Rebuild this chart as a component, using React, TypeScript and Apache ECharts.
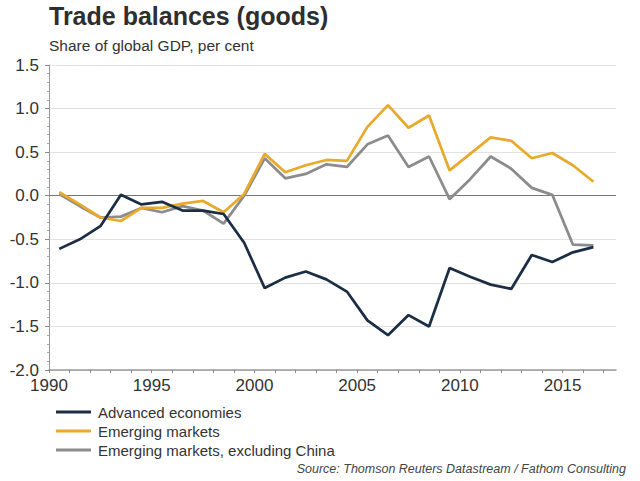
import React, { useEffect, useRef } from "react";
import * as echarts from "echarts";

const years = [
  1990, 1991, 1992, 1993, 1994, 1995, 1996, 1997, 1998, 1999, 2000, 2001, 2002,
  2003, 2004, 2005, 2006, 2007, 2008, 2009, 2010, 2011, 2012, 2013, 2014, 2015, 2016,
];

const advancedEconomies = [
  -0.61, -0.5, -0.35, 0.01, -0.1, -0.07, -0.17, -0.17, -0.21, -0.54, -1.06, -0.94, -0.87,
  -0.96, -1.1, -1.43, -1.6, -1.37, -1.5, -0.83, -0.93, -1.02, -1.07, -0.68, -0.76, -0.65, -0.59,
];

const emergingMarkets = [
  0.04, -0.1, -0.25, -0.29, -0.14, -0.14, -0.09, -0.06, -0.19, 0.02, 0.48, 0.27, 0.35,
  0.41, 0.4, 0.79, 1.04, 0.78, 0.92, 0.29, 0.48, 0.67, 0.63, 0.43, 0.49, 0.35, 0.16,
];

const emergingExChina = [
  0.02, -0.12, -0.25, -0.24, -0.14, -0.19, -0.12, -0.17, -0.32, 0.0, 0.43, 0.2, 0.25,
  0.36, 0.33, 0.59, 0.69, 0.33, 0.45, -0.04, 0.19, 0.45, 0.31, 0.09, 0.01, -0.56, -0.57,
];

const seriesNames = [
  "Advanced economies",
  "Emerging markets",
  "Emerging markets, excluding China",
];
const seriesColors = ["#1c2e44", "#e8aa2c", "#8c8c8c"];

const FONT = "'Liberation Sans', Arial, Helvetica, sans-serif";

// Annual observations plotted at mid-year
const toPoints = (vals: number[]) => years.map((y, i) => [y + 0.5, vals[i]]);

export default function App() {
  const ref = useRef<HTMLDivElement>(null);

  useEffect(() => {
    if (!ref.current) return;
    const chart = echarts.init(ref.current, null, { renderer: "svg" });
    const allData = [advancedEconomies, emergingMarkets, emergingExChina];

    chart.setOption({
      animation: false,
      backgroundColor: "#ffffff",
      textStyle: { fontFamily: FONT },
      title: [
        {
          text: "Trade balances (goods)",
          left: 49,
          top: 3,
          padding: 0,
          textStyle: {
            fontFamily: FONT,
            fontSize: 25,
            fontWeight: "bold",
            color: "#2e2e2e",
          },
        },
        {
          text: "Share of global GDP, per cent",
          left: 49,
          top: 37,
          padding: 0,
          textStyle: {
            fontFamily: FONT,
            fontSize: 15.5,
            fontWeight: "normal",
            color: "#333333",
          },
        },
        {
          text: "Source: Thomson Reuters Datastream / Fathom Consulting",
          right: 14,
          top: 462,
          padding: 0,
          textStyle: {
            fontFamily: FONT,
            fontSize: 12.5,
            fontStyle: "italic",
            fontWeight: "normal",
            color: "#444444",
          },
        },
      ],
      legend: {
        orient: "vertical",
        left: 56,
        top: 404,
        padding: 0,
        itemGap: 3,
        itemWidth: 35,
        itemHeight: 3,
        icon: "rect",
        textStyle: {
          fontFamily: FONT,
          fontSize: 15,
          lineHeight: 16,
          color: "#333333",
          padding: [0, 0, 0, 2],
        },
        data: seriesNames,
      },
      grid: {
        left: 49,
        right: 24,
        top: 65,
        bottom: 111,
        containLabel: false,
      },
      xAxis: {
        type: "value",
        min: 1990,
        max: 2017.6,
        interval: 1,
        axisLine: {
          show: true,
          onZero: false,
          lineStyle: { color: "#999999", width: 1.5 },
        },
        axisTick: {
          show: true,
          length: 3,
          lineStyle: { color: "#888888" },
        },
        axisLabel: {
          fontFamily: FONT,
          fontSize: 17,
          color: "#333333",
          margin: 7,
          showMaxLabel: false,
          formatter: (v: number) => (v % 5 === 0 ? String(v) : ""),
        },
        splitLine: { show: false },
      },
      yAxis: {
        type: "value",
        min: -2,
        max: 1.5,
        interval: 0.5,
        axisLine: {
          show: true,
          lineStyle: { color: "#999999", width: 1 },
        },
        axisTick: {
          show: true,
          length: 4,
          lineStyle: { color: "#888888" },
        },
        minorTick: {
          show: true,
          splitNumber: 5,
          length: 2,
          lineStyle: { color: "#aaaaaa" },
        },
        axisLabel: {
          fontFamily: FONT,
          fontSize: 17,
          color: "#333333",
          margin: 10,
          formatter: (v: number) => v.toFixed(1),
        },
        splitLine: {
          show: true,
          lineStyle: { color: "#e2e2e2", width: 1 },
        },
      },
      series: seriesNames.map((name, i) => ({
        name,
        type: "line",
        data: toPoints(allData[i]),
        symbol: "none",
        color: seriesColors[i],
        lineStyle: { color: seriesColors[i], width: 2.75 },
        z: 3 + (2 - i),
        markLine:
          i === 0
            ? {
                silent: true,
                symbol: "none",
                label: { show: false },
                lineStyle: { color: "#777777", width: 1, type: "solid" },
                data: [{ yAxis: 0 }],
                z: 1,
              }
            : undefined,
      })),
    });

    return () => chart.dispose();
  }, []);

  return (
    <div
      ref={ref}
      style={{ position: "fixed", left: 0, top: 0, width: 640, height: 481 }}
    />
  );
}
